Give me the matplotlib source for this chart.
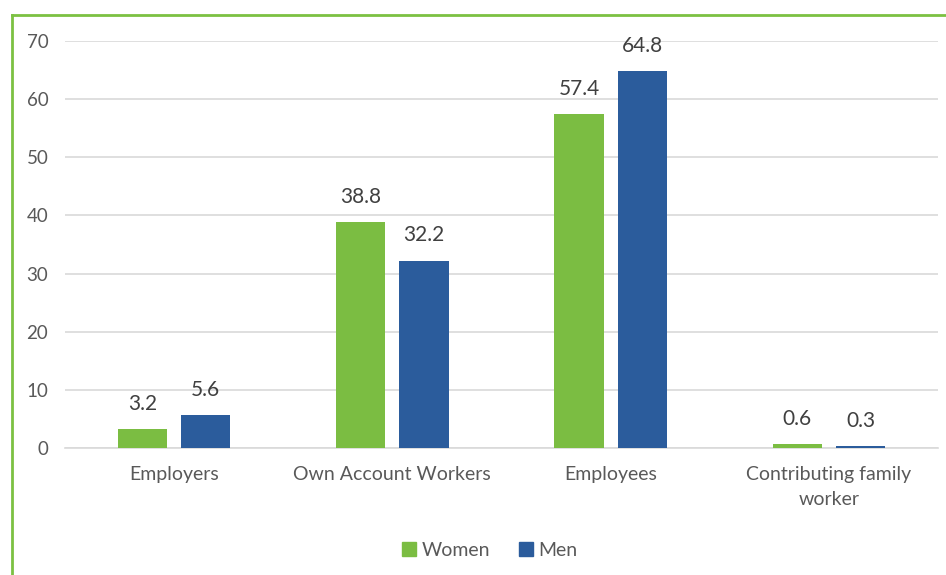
import matplotlib
matplotlib.use("Agg")
import matplotlib.pyplot as plt
import numpy as np
from matplotlib.patches import Rectangle
from matplotlib.lines import Line2D

categories = ["Employers", "Own Account Workers", "Employees", "Contributing family\nworker"]
women = [3.2, 38.8, 57.4, 0.6]
men = [5.6, 32.2, 64.8, 0.3]
yticks = [0, 10, 20, 30, 40, 50, 60, 70]

GREEN = "#7BBD42"
BLUE = "#2B5C9C"
TEXT = "#595959"

plt.rcParams["font.family"] = ["Lato", "DejaVu Sans"]

fig = plt.figure(figsize=(9.46, 5.75), dpi=100)
ax = fig.add_axes([0.0687, 0.2209, 0.9228, 0.7078])

x = np.arange(len(categories))
w = 0.225
off = 0.145
b1 = ax.bar(x - off, women, w, color=GREEN, label="Women", zorder=3)
b2 = ax.bar(x + off, men, w, color=BLUE, label="Men", zorder=3)

for bars, vals in ((b1, women), (b2, men)):
    for r, v in zip(bars, vals):
        ax.annotate(f"{v:.1f}", (r.get_x() + r.get_width() / 2, v),
                    xytext=(0, 11), textcoords="offset points",
                    ha="center", va="bottom", fontsize=15, color="#404040")

ax.set_xlim(-0.5, len(categories) - 0.5)
ax.set_ylim(0, 70)
ax.set_yticks(yticks)
ax.set_xticks(x)
ax.set_xticklabels(categories, linespacing=1.6)
ax.yaxis.grid(True, color="#D9D9D9", linewidth=1.2, zorder=0)
ax.set_axisbelow(True)
for s in ["top", "right", "left"]:
    ax.spines[s].set_visible(False)
ax.spines["bottom"].set_color("#D9D9D9")
ax.spines["bottom"].set_linewidth(1.2)
ax.tick_params(axis="y", length=0, labelsize=13.5, labelcolor=TEXT, pad=12)
ax.tick_params(axis="x", length=0, labelsize=14, labelcolor=TEXT, pad=13)

handles = [Rectangle((0, 0), 1, 1, color=GREEN), Rectangle((0, 0), 1, 1, color=BLUE)]
fig.legend(handles, ["Women", "Men"], loc="center", bbox_to_anchor=(0.518, 0.043),
           ncol=2, frameon=False, fontsize=14, handlelength=0.7, handleheight=0.7,
           handletextpad=0.3, columnspacing=1.5, labelcolor=TEXT)

# green frame on the top and left edges
fig.add_artist(Line2D([0.0127, 0.0127], [0, 0.974], color="#7CC142", linewidth=2, transform=fig.transFigure))
fig.add_artist(Line2D([0.0127, 1.0], [0.974, 0.974], color="#7CC142", linewidth=2, transform=fig.transFigure))

fig.savefig("out.png", dpi=100)
